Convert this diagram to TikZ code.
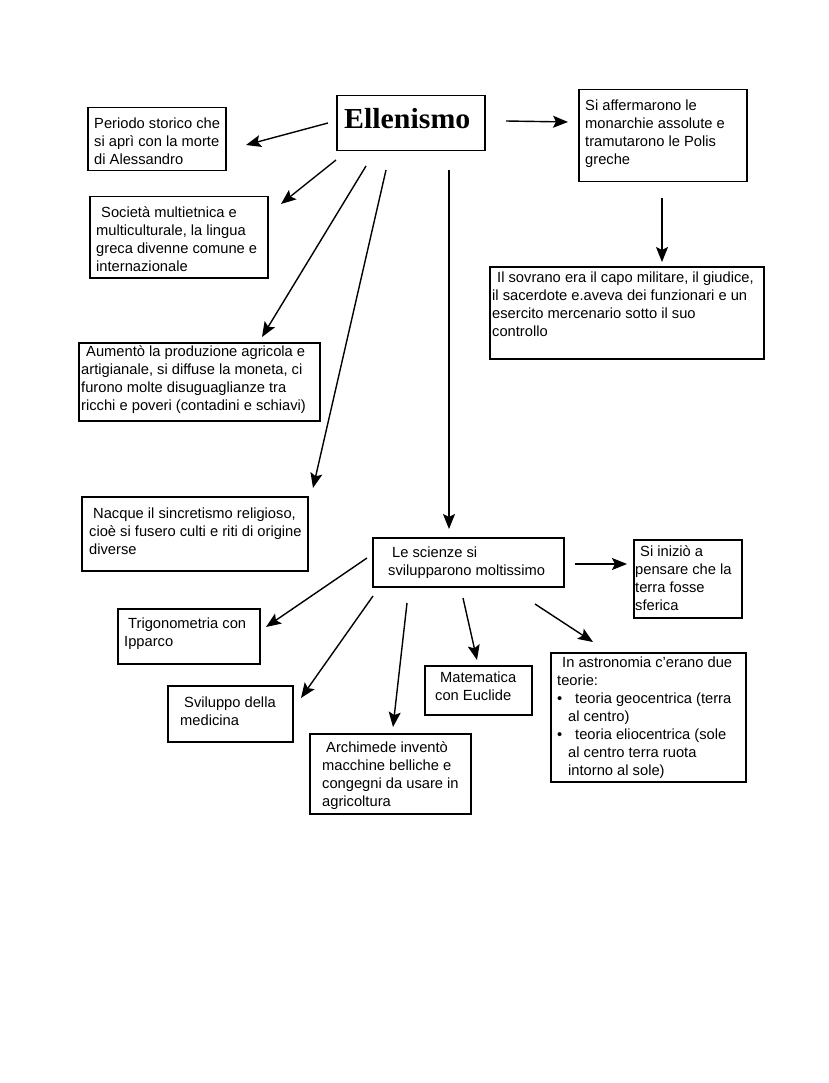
\documentclass[tikz,border=0pt]{standalone}
\usepackage{fontspec}
\setmainfont{Liberation Sans}
\newfontfamily\titlefont{Liberation Serif}
\usetikzlibrary{arrows.meta}
\tikzset{
  box/.style={draw, line width=1.5pt, anchor=north west, inner sep=0pt},
  txt/.style={font=\fontsize{14.7}{18}\selectfont, align=left, inner sep=0pt, anchor=north west},
  arr/.style={line width=1.4pt, -{Stealth[length=15pt,width=12pt,inset=3pt]}}
}
\newcommand{\ind}{\hspace*{5pt}}
\begin{document}
\begin{tikzpicture}[x=1pt,y=-1pt]
\useasboundingbox[fill=white] (0,0) rectangle (828,1083);

% boxes
\node[box, minimum width=148, minimum height=55] (ell) at (336,95) {};
\node[box, minimum width=138, minimum height=63] (per) at (87,107) {};
\node[box, minimum width=168, minimum height=92] (aff) at (578,89) {};
\node[box, minimum width=274, minimum height=92] (sov) at (489,266) {};
\node[box, minimum width=178, minimum height=81] (soc) at (89,196) {};
\node[box, minimum width=241, minimum height=78] (aum) at (78,342) {};
\node[box, minimum width=226, minimum height=74] (nac) at (81,496) {};
\node[box, minimum width=191, minimum height=49] (sci) at (372,537) {};
\node[box, minimum width=108, minimum height=78] (ini) at (633,539) {};
\node[box, minimum width=142, minimum height=55] (tri) at (117,608) {};
\node[box, minimum width=125, minimum height=56] (svi) at (167,685) {};
\node[box, minimum width=107, minimum height=49] (mat) at (424,665) {};
\node[box, minimum width=161, minimum height=80] (arc) at (309,733) {};
\node[box, minimum width=195, minimum height=129] (ast) at (550,652) {};

% texts
\node[inner sep=0pt, anchor=base west, font=\titlefont\bfseries\fontsize{29}{34}\selectfont] (ellt) at (344,129) {\scalebox{1.03}[1]{Ellenismo}};
\node[txt] (pert) at (94,115.4) {\strut Periodo storico che\\si aprì con la morte\\di Alessandro};
\node[txt] (afft) at (585,97.4) {\strut Si affermarono le\\monarchie assolute e\\tramutarono le Polis\\greche};
\node[txt] (sovt) at (492,269.4) {\strut\ind Il sovrano era il capo militare, il giudice,\\il sacerdote e.aveva dei funzionari e un\\esercito mercenario sotto il suo\\controllo};
\node[txt] (soct) at (96,204.4) {\strut\ind Società multietnica e\\multiculturale, la lingua\\greca divenne comune e\\internazionale};
\node[txt] (aumt) at (81,343.4) {\strut\ind Aumentò la produzione agricola e\\artigianale, si diffuse la moneta, ci\\furono molte disuguaglianze tra\\ricchi e poveri (contadini e schiavi)};
\node[txt] (nact) at (89,505.4) {\strut\hspace*{4pt}Nacque il sincretismo religioso,\\cioè si fusero culti e riti di origine\\diverse};
\node[txt] (scit) at (388,544.4) {\strut\hspace*{4pt}Le scienze si\\svilupparono moltissimo};
\node[txt] (init) at (635,543.4) {\strut\ind Si iniziò a\\pensare che la\\terra fosse\\sferica};
\node[txt] (trit) at (124,615.4) {\strut\hspace*{4pt}Trigonometria con\\Ipparco};
\node[txt] (svit) at (180,694.4) {\strut\hspace*{4pt}Sviluppo della\\medicina};
\node[txt] (matt) at (435,669.4) {\strut\ind Matematica\\con Euclide};
\node[txt] (arct) at (322,739.4) {\strut\hspace*{4pt}Archimede inventò\\macchine belliche e\\congegni da usare in\\agricoltura};
\node[txt] (astt) at (557,654.4) {\strut\ind In astronomia c’erano due\\teorie:\\\makebox[18pt][l]{•}teoria geocentrica (terra\\\hspace*{11pt}al centro)\\\makebox[18pt][l]{•}teoria eliocentrica (sole\\\hspace*{11pt}al centro terra ruota\\\hspace*{11pt}intorno al sole)};

% arrow end points
\coordinate (a1s) at (328,123); \coordinate (a1e) at (246,145);
\coordinate (a2s) at (506,121); \coordinate (a2e) at (568,122);
\coordinate (a3s) at (662,198); \coordinate (a3e) at (662,262);
\coordinate (a4s) at (336,160); \coordinate (a4e) at (281,204);
\coordinate (a5s) at (366,166); \coordinate (a5e) at (262,337);
\coordinate (a6s) at (386,170); \coordinate (a6e) at (313,488);
\coordinate (a7s) at (449,170); \coordinate (a7e) at (449,529);
\coordinate (a8s) at (575,564); \coordinate (a8e) at (627,564);
\coordinate (a9s) at (367,558); \coordinate (a9e) at (266,627);
\coordinate (a10s) at (373,596); \coordinate (a10e) at (301,698);
\coordinate (a11s) at (407,603); \coordinate (a11e) at (393,727);
\coordinate (a12s) at (463,598); \coordinate (a12e) at (477,660);
\coordinate (a13s) at (535,604); \coordinate (a13e) at (593,642);

\draw[arr] (a1s) -- (a1e);
\draw[arr] (a2s) -- (a2e);
\draw[arr] (a3s) -- (a3e);
\draw[arr] (a4s) -- (a4e);
\draw[arr] (a5s) -- (a5e);
\draw[arr] (a6s) -- (a6e);
\draw[arr] (a7s) -- (a7e);
\draw[arr] (a8s) -- (a8e);
\draw[arr] (a9s) -- (a9e);
\draw[arr] (a10s) -- (a10e);
\draw[arr] (a11s) -- (a11e);
\draw[arr] (a12s) -- (a12e);
\draw[arr] (a13s) -- (a13e);
\end{tikzpicture}
\end{document}
